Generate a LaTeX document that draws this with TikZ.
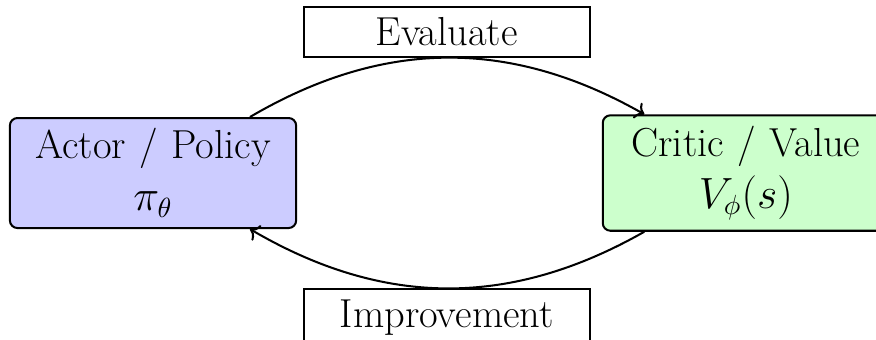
\documentclass[tikz,border=0pt]{standalone}
\usepackage{amsmath}
\usetikzlibrary{arrows.meta, positioning}

\begin{document}
\begin{tikzpicture}[
	block/.style={draw, thick, rounded corners=3pt,
	inner sep=4.2pt, text width=3.68cm, text centered,
	font=\fontsize{16}{19.5}\selectfont},
	tag/.style={draw, thick, fill=white,
	inner sep=4.2pt, text width=3.68cm, text centered,
	font=\fontsize{16}{19.5}\selectfont}
	]
	% frame of the picture
	\useasboundingbox (-2.125,-2.306) rectangle (10.04,2.403);
	% draw rectangle nodes
	\node[block, fill=blue!20] (actor) {
	Actor / Policy\\[1pt] $\pi_\theta$
	};
	\node[block, fill=green!20,
	right=4.23cm of actor] (critic) {
	Critic / Value\\[1pt] $V_\phi(s)$
	};
	% Arrows
	\draw[thick, ->] (actor) to[bend left] node[tag, midway, above] (evaluate) {Evaluate} (critic);
	\draw[thick, ->] (critic) to[bend left] node[tag, midway, below] (improve) {Improvement} (actor);
\end{tikzpicture}
\end{document}
